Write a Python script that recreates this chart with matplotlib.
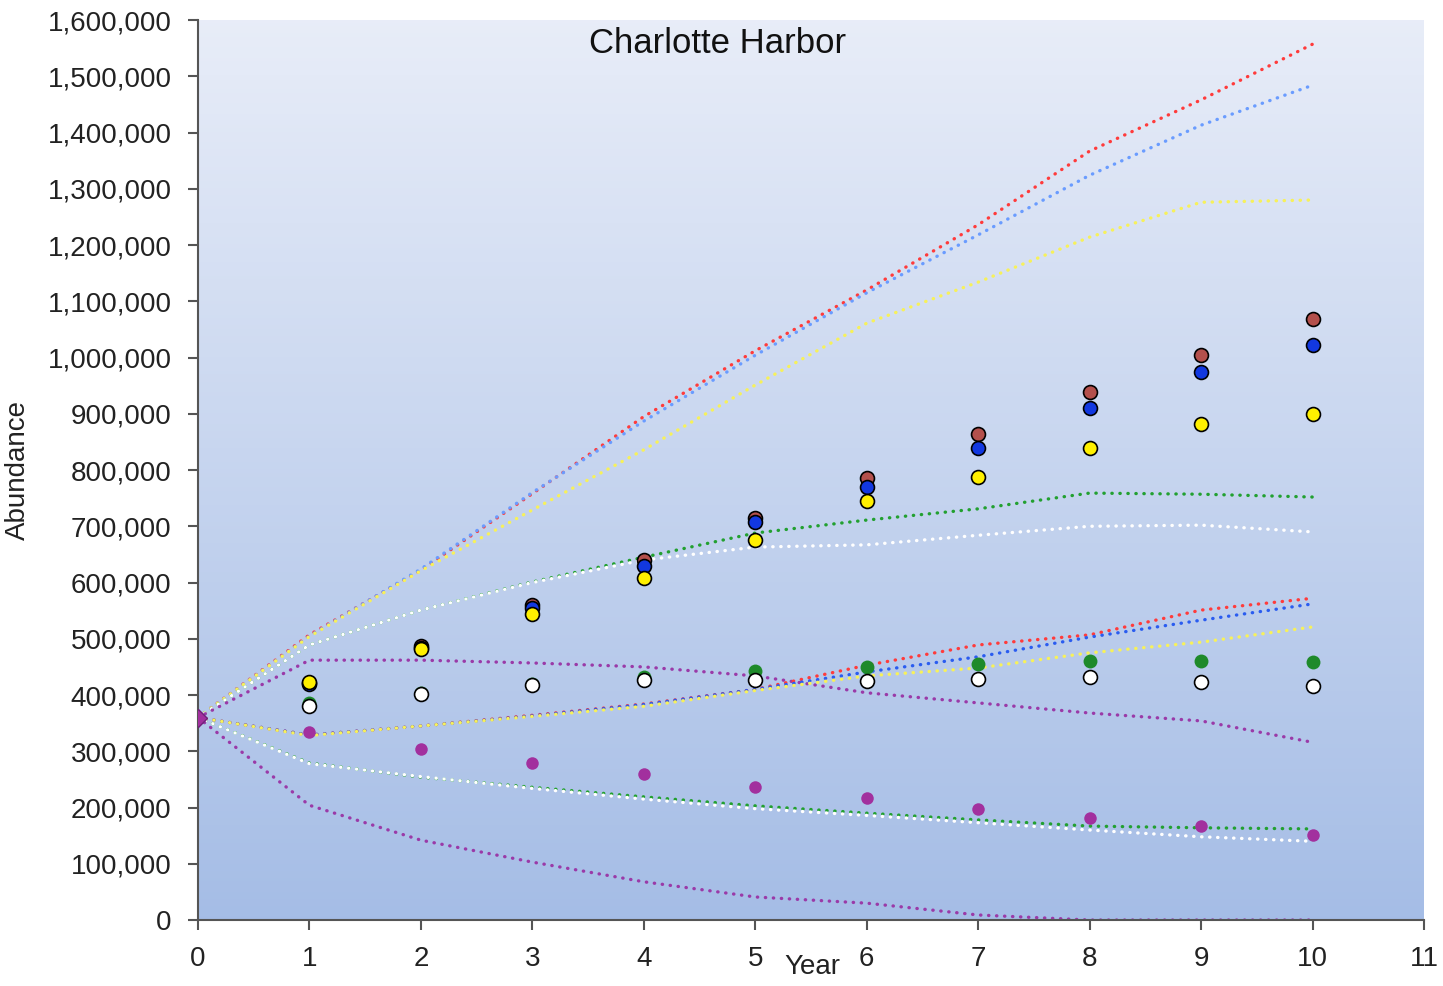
import numpy as np
import matplotlib.pyplot as plt
from matplotlib.ticker import FuncFormatter

plt.rcParams['font.family'] = ['Liberation Sans', 'DejaVu Sans']

years = np.arange(0, 11)
pts_years = np.arange(1, 11)

# projected lines (upper / lower bounds)
red_hi = [360000, 507000, 622000, 758000, 895000, 1012000, 1120000, 1236000, 1367000, 1458000, 1557000]
blue_hi = [360000, 505000, 624000, 760000, 887000, 1004000, 1115000, 1218000, 1324000, 1413000, 1484000]
yellow_hi = [360000, 504000, 621000, 729000, 836000, 951000, 1061000, 1134000, 1214000, 1276000, 1280000]
green_hi = [360000, 489000, 551000, 601000, 645000, 688000, 711000, 731000, 759000, 757000, 752000]
white_hi = [360000, 489000, 551000, 600000, 640000, 663000, 667000, 684000, 700000, 702000, 690000]
purple_hi = [360000, 462000, 462000, 457000, 450000, 434000, 404000, 386000, 368000, 354000, 316000]
red_lo = [360000, 329000, 345000, 364000, 384000, 410000, 453000, 489000, 507000, 551000, 572000]
blue_lo = [360000, 329000, 345000, 363000, 383000, 410000, 441000, 468000, 503000, 533000, 562000]
yellow_lo = [360000, 328000, 345000, 362000, 380000, 408000, 434000, 448000, 475000, 494000, 521000]
green_lo = [360000, 279000, 254000, 236000, 219000, 203000, 190000, 178000, 167000, 164000, 162000]
white_lo = [360000, 278000, 255000, 234000, 215000, 198000, 186000, 173000, 160000, 148000, 140000]
purple_lo = [360000, 204000, 142000, 103000, 68000, 41000, 30000, 9000, 0, 0, 0]

# point estimates for years 1..10
brown_pts = [421000, 487000, 560000, 640000, 715000, 786000, 864000, 939000, 1004000, 1068000]
blue_pts = [420000, 484000, 555000, 629000, 708000, 770000, 839000, 910000, 974000, 1022000]
yellow_pts = [423000, 482000, 544000, 608000, 676000, 745000, 788000, 839000, 882000, 900000]
green_pts = [385000, 404000, 420000, 432000, 443000, 450000, 455000, 460000, 460000, 459000]
white_pts = [380000, 402000, 418000, 427000, 427000, 425000, 428000, 432000, 423000, 416000]
purple_pts = [334000, 304000, 279000, 260000, 236000, 217000, 197000, 181000, 167000, 151000]
start_value = 360000

fig = plt.figure(figsize=(14.43, 9.86), dpi=100)
ax = fig.add_axes([0.1372, 0.0669, 0.8496, 0.9128])

# gradient background
grad = np.linspace(0, 1, 256).reshape(-1, 1)
top = np.array([0.910, 0.929, 0.973])
bot = np.array([0.647, 0.741, 0.902])
img = top + (bot - top) * grad[:, :, None]
ax.imshow(img, extent=[0, 11, 0, 1600000], aspect='auto', origin='upper', zorder=0)

dot = (0, (0.1, 2.3))
lines = [
    (red_hi, '#ff3b3b'), (blue_hi, '#6a9cff'), (yellow_hi, '#f7f15a'),
    (green_hi, '#22a030'), (white_hi, '#ffffff'), (purple_hi, '#9a3aa8'),
    (red_lo, '#ff3b3b'), (blue_lo, '#2a5cf0'), (yellow_lo, '#f7f15a'),
    (green_lo, '#22a030'), (white_lo, '#ffffff'), (purple_lo, '#9a3aa8'),
]
for vals, c in lines:
    ax.plot(years, vals, color=c, lw=2.4, linestyle=dot, dash_capstyle='round', zorder=2)

ax.plot(pts_years, green_pts, 'o', color='#1e8a2a', ms=10, mec='none', zorder=3)
ax.plot(pts_years, white_pts, 'o', color='white', ms=10, mec='black', mew=1.2, zorder=4)
ax.plot(pts_years, purple_pts, 'o', color='#a2309e', ms=9, mec='none', zorder=4)
ax.plot(pts_years, brown_pts, 'o', color='#b4504c', ms=10, mec='black', mew=1.2, zorder=5)
ax.plot(pts_years, blue_pts, 'o', color='#1238e0', ms=10, mec='black', mew=1.2, zorder=6)
ax.plot(pts_years, yellow_pts, 'o', color='#fff000', ms=10, mec='black', mew=1.2, zorder=7)
ax.plot([0], [start_value], 'D', color='#a2309e', ms=9, mec='#70207a', zorder=8)

ax.set_xlim(0, 11)
ax.set_ylim(0, 1600000)
ax.set_xticks(range(0, 12))
ax.set_yticks(range(0, 1600001, 100000))
ax.yaxis.set_major_formatter(FuncFormatter(lambda v, p: f'{int(v):,}'))
ax.tick_params(axis='both', labelsize=20, color='#555555', length=7, width=1.5, labelcolor='#222222')
ax.tick_params(axis='y', pad=12)
ax.tick_params(axis='x', pad=12)
for s in ['top', 'right']:
    ax.spines[s].set_visible(False)
for s in ['left', 'bottom']:
    ax.spines[s].set_color('#555555')
    ax.spines[s].set_linewidth(1.5)

ax.set_ylabel('Abundance', fontsize=20, color='#222222', labelpad=12)
ax.text(5.51, -60000, 'Year', fontsize=20, color='#222222', ha='center', va='top')
ax.text(4.66, 1587000, 'Charlotte Harbor', fontsize=25, color='#111111', ha='center', va='top')

fig.savefig('out.png', dpi=100)
